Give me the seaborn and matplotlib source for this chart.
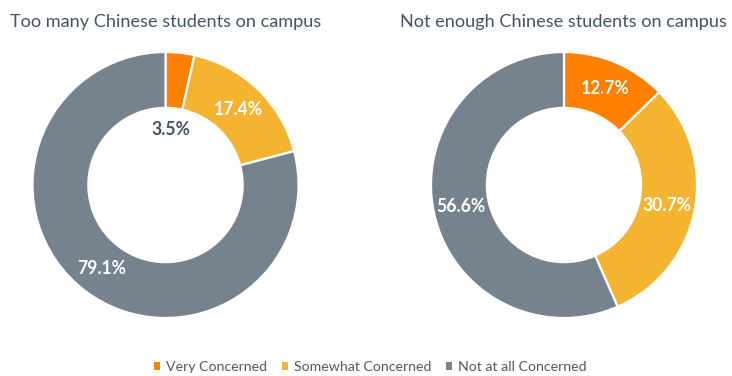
import matplotlib
matplotlib.use("Agg")
import matplotlib.pyplot as plt
import seaborn as sns
import numpy as np
from matplotlib.patches import Patch

sns.set_theme(style="white")
plt.rcParams['font.family'] = ['Lato', 'DejaVu Sans']

categories = ["Very Concerned", "Somewhat Concerned", "Not at all Concerned"]
too_many = [3.5, 17.4, 79.1]
not_enough = [12.7, 30.7, 56.6]
titles = ["Too many Chinese students on campus", "Not enough Chinese students on campus"]
colors = sns.color_palette(["#FF8000", "#F4B331", "#76838F"])

fig = plt.figure(figsize=(7.32, 3.76), dpi=100)
W, H = 732, 376
R = 133
renderer = fig.canvas.get_renderer()


def fit_size(text, target_px, weight="normal", base=10.0):
    t = fig.text(0, 0, text, fontsize=base, fontweight=weight)
    w = t.get_window_extent(renderer).width
    t.remove()
    return base * target_px / w


def make_ax(cx, cy):
    return fig.add_axes([(cx - R) / W, (H - cy - R) / H, 2 * R / W, 2 * R / H])


axes = [make_ax(165.5, 185), make_ax(564, 185)]
label_fs = fit_size("12.7%", 49, weight="bold")
label_specs = [
    [(5.5, 55, "#44546A"), None, None],
    [None, None, None],
]

for ax, vals, specs in zip(axes, [too_many, not_enough], label_specs):
    wedges, _ = ax.pie(vals, colors=colors, startangle=90, counterclock=False,
                       radius=1, wedgeprops=dict(width=0.42, edgecolor="white", linewidth=1.6))
    for i, (v, w) in enumerate(zip(vals, wedges)):
        mid = np.deg2rad((w.theta1 + w.theta2) / 2)
        r = 0.79
        x, y = r * np.cos(mid), r * np.sin(mid)
        color = "white"
        if specs[i] is not None:
            x, y = specs[i][0] / R, specs[i][1] / R
            color = specs[i][2]
        ax.text(x, y, f"{v}%", ha="center", va="center", fontsize=label_fs,
                fontweight="bold", color=color)
    ax.set_xlim(-1, 1)
    ax.set_ylim(-1, 1)
    ax.set_aspect("equal")
    ax.axis("off")

title_fs = fit_size(titles[1], 327)
fig.text(10 / W, 1 - 22 / H, titles[0], ha="left", va="center", fontsize=title_fs, color="#44546A")
fig.text(727 / W, 1 - 22 / H, titles[1], ha="right", va="center", fontsize=title_fs, color="#44546A")

leg_fs = fit_size(categories[2], 128)
fs_px = leg_fs * 100 / 72
handles = [Patch(facecolor=c, edgecolor="none") for c in colors]
fig.legend(handles, categories, loc="center", bbox_to_anchor=(370 / W, 1 - 367 / H),
           ncol=3, frameon=False, fontsize=leg_fs,
           handlelength=6 / fs_px, handleheight=6 / fs_px,
           handletextpad=6 / fs_px, columnspacing=15 / fs_px, labelcolor="#595959")

fig.savefig("out.png", dpi=100)
